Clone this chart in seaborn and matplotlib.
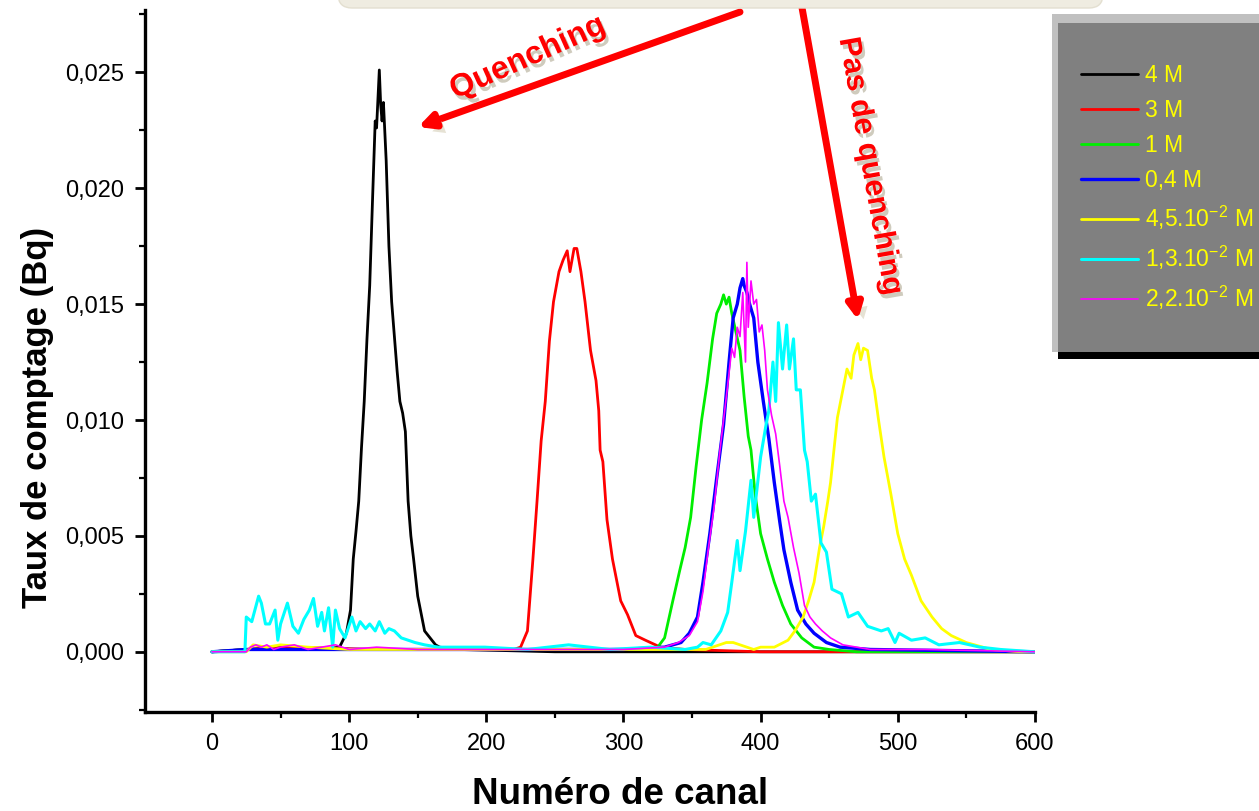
import matplotlib
matplotlib.use("Agg")
import matplotlib.pyplot as plt
import matplotlib.patheffects as pe
from matplotlib.patches import Rectangle, FancyBboxPatch
from matplotlib.ticker import FuncFormatter, MultipleLocator
import pandas as pd
import seaborn as sns

# spectra (channel, count rate in Bq)
ch_4M = [0, 25, 50, 80, 93, 98, 101, 103, 105, 107, 109, 111, 113, 115, 117, 119, 120, 122, 123, 124, 125,
         127, 129, 131, 133, 135, 137, 139, 141, 143, 145, 147, 150, 152, 155, 159, 163, 166, 180, 250, 400, 600]
v_4M = [0, 0.0001, 0.0002, 0.0001, 0.0002, 0.0008, 0.0018, 0.0040, 0.0052, 0.0065, 0.0088, 0.0108, 0.0135,
        0.0158, 0.0194, 0.0229, 0.0226, 0.0251, 0.0236, 0.0229, 0.0237, 0.0212, 0.0175, 0.0151, 0.0136, 0.0121,
        0.0108, 0.0103, 0.0095, 0.0065, 0.0050, 0.0040, 0.0024, 0.0018, 0.0009, 0.0006, 0.0003, 0.0002, 0.0001,
        0.0, 0.0, 0.0]

ch_3M = [0, 25, 60, 120, 180, 220, 225, 230, 234, 237, 240, 243, 246, 249, 253, 256, 259, 261, 264, 266, 269,
         272, 276, 280, 282, 283, 285, 288, 292, 298, 303, 309, 316, 327, 345, 400, 600]
v_3M = [0, 0.0001, 0.0002, 0.0001, 0.0001, 0.0001, 0.0002, 0.0009, 0.0040, 0.0065, 0.0091, 0.0108, 0.0134,
        0.0151, 0.0164, 0.0169, 0.0173, 0.0164, 0.0174, 0.0174, 0.0164, 0.0151, 0.0130, 0.0117, 0.0104, 0.0087,
        0.0082, 0.0057, 0.0040, 0.0022, 0.0016, 0.0007, 0.0005, 0.0002, 0.0001, 0.0, 0.0]

ch_1M = [0, 25, 100, 200, 300, 318, 325, 330, 336, 341, 345, 349, 353, 357, 361, 365, 368, 371, 373, 375, 377,
         379, 382, 385, 388, 391, 393, 396, 400, 405, 410, 416, 422, 430, 439, 450, 470, 600]
v_1M = [0, 0.0001, 0.0001, 0.0001, 0.0001, 0.0001, 0.0002, 0.0006, 0.0022, 0.0035, 0.0045, 0.0058, 0.0080,
        0.0100, 0.0116, 0.0135, 0.0146, 0.0150, 0.0154, 0.0150, 0.0153, 0.0146, 0.0138, 0.0130, 0.0110, 0.0093,
        0.0087, 0.0068, 0.0051, 0.0040, 0.0030, 0.0020, 0.0012, 0.0006, 0.0002, 0.0001, 0.0, 0.0]

ch_04M = [0, 25, 100, 200, 300, 330, 342, 348, 354, 358, 363, 368, 373, 377, 380, 383, 385, 387, 388, 390, 392,
          395, 398, 402, 406, 410, 414, 417, 422, 427, 433, 439, 448, 458, 480, 600]
v_04M = [0, 0.0001, 0.0001, 0.0001, 0.0001, 0.0002, 0.0004, 0.0008, 0.0015, 0.0030, 0.0051, 0.0075, 0.0098,
         0.0125, 0.0144, 0.0150, 0.0157, 0.0161, 0.0158, 0.0155, 0.0150, 0.0144, 0.0125, 0.0108, 0.0092, 0.0073,
         0.0056, 0.0044, 0.0030, 0.0018, 0.0012, 0.0008, 0.0004, 0.0002, 0.0001, 0.0]

ch_45 = [0, 25, 30, 40, 50, 70, 100, 150, 200, 300, 360, 370, 375, 380, 385, 390, 395, 400, 410, 420, 425, 431,
         435, 439, 443, 446, 449, 451, 454, 456, 459, 463, 466, 468, 471, 473, 475, 478, 481, 483, 486, 490, 495,
         500, 505, 510, 517, 525, 532, 539, 550, 568, 590, 600]
v_45 = [0, 0, 0.0003, 0.0002, 0.0003, 0.0002, 0.0001, 0.0001, 0.0001, 0.0001, 0.0001, 0.0003, 0.0004, 0.0004,
        0.0003, 0.0002, 0.0001, 0.0002, 0.0002, 0.0005, 0.0009, 0.0015, 0.0022, 0.0030, 0.0045, 0.0054, 0.0065,
        0.0073, 0.0090, 0.0101, 0.0110, 0.0122, 0.0118, 0.0128, 0.0133, 0.0126, 0.0131, 0.0130, 0.0118, 0.0113,
        0.0100, 0.0084, 0.0068, 0.0051, 0.0040, 0.0033, 0.0022, 0.0015, 0.0010, 0.0007, 0.0004, 0.0001, 0.0, 0.0]

ch_13 = [0, 24, 25, 29, 34, 36, 39, 42, 46, 48, 50, 55, 59, 63, 67, 71, 74, 77, 80, 82, 85, 88, 90, 93, 97, 102,
         105, 108, 112, 115, 119, 122, 126, 129, 133, 138, 143, 148, 155, 165, 175, 199, 230, 260, 290, 320, 345,
         354, 358, 364, 371, 376, 379, 383, 385, 389, 393, 395, 400, 404, 406, 409, 411, 413, 416, 419, 421, 424,
         426, 429, 432, 434, 437, 440, 444, 448, 452, 459, 464, 471, 478, 488, 493, 498, 501, 510, 520, 530, 545,
         560, 575, 600]
v_13 = [0, 0, 0.0015, 0.0013, 0.0024, 0.0021, 0.0012, 0.0012, 0.0018, 0.0005, 0.0012, 0.0021, 0.0011, 0.0008,
        0.0014, 0.0018, 0.0023, 0.0011, 0.0017, 0.0009, 0.0019, 0.0002, 0.0018, 0.0010, 0.0006, 0.0015, 0.0009,
        0.0013, 0.0010, 0.0012, 0.0009, 0.0013, 0.0008, 0.0010, 0.0009, 0.0006, 0.0005, 0.0004, 0.0003, 0.0002,
        0.0002, 0.0002, 0.0001, 0.0003, 0.0001, 0.0002, 0.0001, 0.0002, 0.0004, 0.0003, 0.0009, 0.0017, 0.0030,
        0.0048, 0.0035, 0.0052, 0.0074, 0.0058, 0.0084, 0.0098, 0.0104, 0.0125, 0.0108, 0.0142, 0.0122, 0.0141,
        0.0122, 0.0135, 0.0113, 0.0113, 0.0087, 0.0082, 0.0065, 0.0068, 0.0047, 0.0043, 0.0027, 0.0025, 0.0015,
        0.0017, 0.0011, 0.0009, 0.0010, 0.0004, 0.0008, 0.0005, 0.0006, 0.0003, 0.0004, 0.0002, 0.0001, 0.0]

ch_22 = [0, 25, 28, 32, 36, 40, 45, 50, 60, 70, 80, 90, 100, 120, 150, 200, 300, 330, 340, 348, 354, 358, 362,
         366, 370, 373, 376, 379, 381, 383, 385, 387, 389, 390, 391, 393, 395, 397, 399, 401, 403, 405, 408, 411,
         414, 417, 420, 424, 428, 432, 436, 440, 445, 451, 460, 480, 520, 600]
v_22 = [0, 0, 0.0002, 0.0003, 0.0002, 0.0003, 0.0001, 0.0002, 0.0003, 0.0001, 0.0002, 0.0003, 0.0001, 0.0002,
        0.0001, 0.0001, 0.0001, 0.0002, 0.0004, 0.0007, 0.0013, 0.0026, 0.0045, 0.0062, 0.0085, 0.0100, 0.0115,
        0.0131, 0.0127, 0.0140, 0.0136, 0.0155, 0.0125, 0.0168, 0.0140, 0.0160, 0.0150, 0.0152, 0.0138, 0.0141,
        0.0130, 0.0113, 0.0102, 0.0094, 0.0080, 0.0065, 0.0058, 0.0045, 0.0034, 0.0020, 0.0015, 0.0012, 0.0009,
        0.0006, 0.0003, 0.0001, 0.0001, 0.0]

labels = ["4 M", "3 M", "1 M", "0,4 M",
          r"4,5.10$^{\mathregular{-2}}$ M", r"1,3.10$^{\mathregular{-2}}$ M", r"2,2.10$^{\mathregular{-2}}$ M"]
colors = ["black", "#ff0000", "#00ee00", "#0000ff", "#ffff00", "#00ffff", "#ff00ff"]
widths = [2.0, 2.0, 2.0, 2.4, 2.0, 2.2, 1.2]
series = [(ch_4M, v_4M), (ch_3M, v_3M), (ch_1M, v_1M), (ch_04M, v_04M),
          (ch_45, v_45), (ch_13, v_13), (ch_22, v_22)]

sns.set_style("ticks")
plt.rcParams["font.family"] = ["Liberation Sans", "DejaVu Sans"]
plt.rcParams["mathtext.fontset"] = "custom"
plt.rcParams["mathtext.rm"] = "Liberation Sans"

fig = plt.figure(figsize=(12.59, 8.11), dpi=100)
ax = fig.add_axes([0.115, 0.122, 0.707, 0.866])

for (x, y), lab, col, lw in zip(series, labels, colors, widths):
    df = pd.DataFrame({"canal": x, "taux": y})
    sns.lineplot(data=df, x="canal", y="taux", color=col, linewidth=lw, label=lab,
                 ax=ax, estimator=None, sort=False)
handles, leg_labels = ax.get_legend_handles_labels()
ax.get_legend().remove()

ax.set_xlim(-49, 600)
ax.set_ylim(-0.0026, 0.0277)
ax.xaxis.set_major_locator(MultipleLocator(100))
ax.xaxis.set_minor_locator(MultipleLocator(50))
ax.yaxis.set_major_locator(MultipleLocator(0.005))
ax.yaxis.set_minor_locator(MultipleLocator(0.0025))
ax.yaxis.set_major_formatter(FuncFormatter(lambda v, p: f"{v:.3f}".replace(".", ",")))
ax.xaxis.set_major_formatter(FuncFormatter(lambda v, p: f"{v:.0f}"))
sns.despine(ax=ax)
for s in ["left", "bottom"]:
    ax.spines[s].set_linewidth(2.4)
    ax.spines[s].set_color("black")
ax.tick_params(which="major", length=7, width=2, labelsize=17, pad=8, labelcolor="black", color="black")
ax.tick_params(which="minor", length=4, width=1.6, color="black")
ax.set_xlabel("Numéro de canal", fontsize=26.5, fontweight="bold", va="center", color="black")
ax.set_ylabel("Taux de comptage (Bq)", fontsize=25, fontweight="bold", va="center", color="black")
ax.xaxis.set_label_coords(0.534, -0.118)
ax.yaxis.set_label_coords(-0.121, 0.42)

# beige banner cut at the top
fig.patches.append(FancyBboxPatch((338, 811 - 8), 765, 60, boxstyle="round,pad=0,rounding_size=14",
                                  transform=None, facecolor="#efece1", edgecolor="#e3dfd0", linewidth=1))

# legend box with bevel
fig.patches.append(Rectangle((1052, 811 - 352), 210, 338, transform=None, facecolor="#c0c0c0", edgecolor="none"))
fig.patches.append(Rectangle((1058, 811 - 359), 210, 336, transform=None, facecolor="black", edgecolor="none"))
fig.patches.append(Rectangle((1058, 811 - 352), 210, 329, transform=None, facecolor="#808080", edgecolor="none"))
leg = fig.legend(handles, leg_labels, loc="upper left", bbox_to_anchor=(1072 / 1259, 1 - 55 / 811),
                 frameon=False, fontsize=16.5, labelcolor="#ffff00", handlelength=2.5, handletextpad=0.3,
                 labelspacing=0.52, borderaxespad=0)

shadow = [pe.withSimplePatchShadow(offset=(5, -5), shadow_rgbFace="#e6e2d4", alpha=1)]
ax.annotate("", xy=(418, 811 - 127), xytext=(740, 811 - 12), xycoords="figure pixels",
            textcoords="figure pixels",
            arrowprops=dict(arrowstyle="-|>,head_length=0.9,head_width=0.45", color="#ff0000", lw=5,
                            shrinkA=0, shrinkB=0, path_effects=shadow))
ax.annotate("", xy=(858, 811 - 320), xytext=(801, 811 - 2), xycoords="figure pixels",
            textcoords="figure pixels",
            arrowprops=dict(arrowstyle="-|>,head_length=0.9,head_width=0.45", color="#ff0000", lw=5,
                            shrinkA=0, shrinkB=0, path_effects=shadow))

txt_shadow = [pe.withSimplePatchShadow(offset=(2, -3), shadow_rgbFace="#cfcbbd", alpha=1)]
fig.text(528 / 1259, 1 - 58 / 811, "Quenching", color="#ff0000", fontsize=23, fontweight="bold",
         rotation=24, ha="center", va="center", rotation_mode="anchor", path_effects=txt_shadow)
fig.text(870 / 1259, 1 - 166 / 811, "Pas de quenching", color="#ff0000", fontsize=22, fontweight="bold",
         rotation=-80, ha="center", va="center", rotation_mode="anchor", path_effects=txt_shadow)

fig.savefig("out.png", dpi=100)
